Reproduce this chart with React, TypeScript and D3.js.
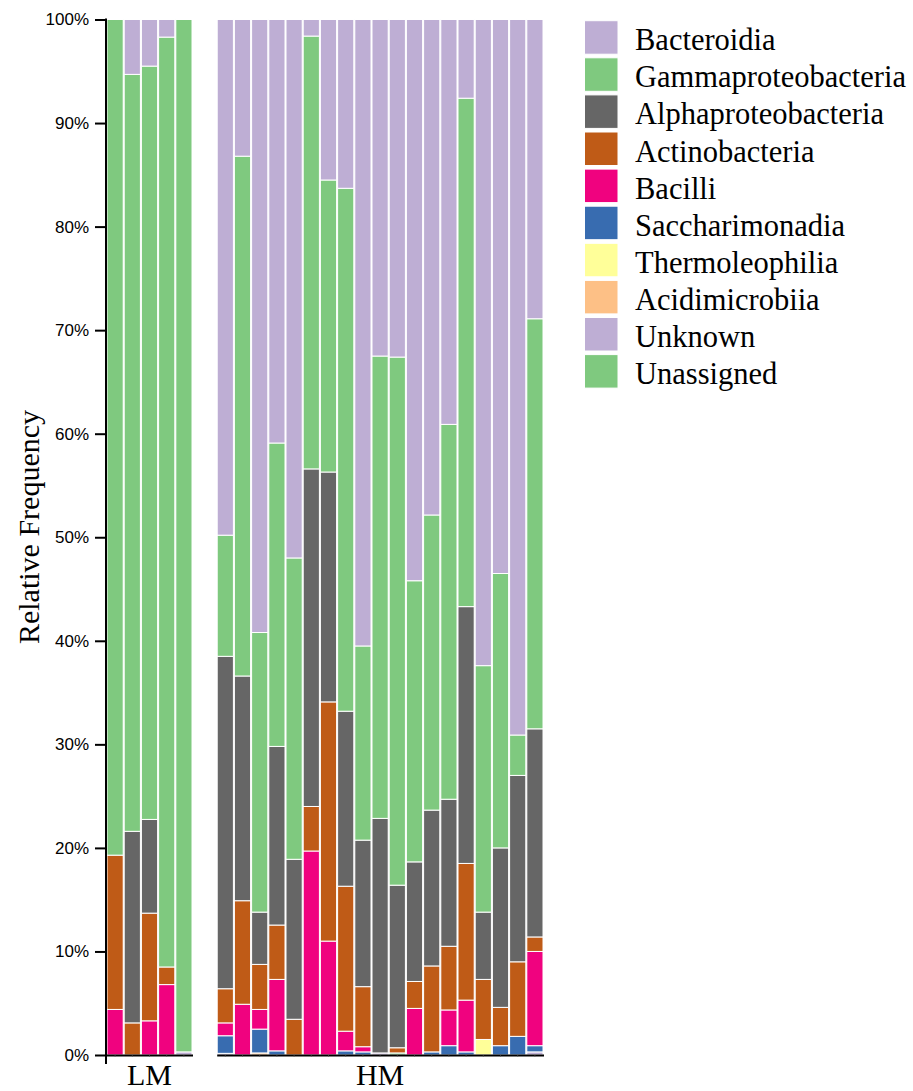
import * as d3 from "d3";
import { useEffect, useRef } from "react";

// sample groups
const lmSamples = ["LM1", "LM2", "LM3", "LM4", "LM5"];
const hmSamples = [
  "HM1", "HM2", "HM3", "HM4", "HM5", "HM6", "HM7", "HM8", "HM9", "HM10",
  "HM11", "HM12", "HM13", "HM14", "HM15", "HM16", "HM17", "HM18", "HM19",
];
const groupLabels = ["LM", "HM"];

// legend order (top of stack first)
const taxa = [
  "Bacteroidia",
  "Gammaproteobacteria",
  "Alphaproteobacteria",
  "Actinobacteria",
  "Bacilli",
  "Saccharimonadia",
  "Thermoleophilia",
  "Acidimicrobiia",
  "Unknown",
  "Unassigned",
];

// relative frequency (%) per sample: LM1..LM5, HM1..HM19
const bacteroidia = [0, 5.3, 4.5, 1.7, 0, 49.8, 13.2, 59.2, 40.9, 52.0, 1.6, 15.5, 16.3, 60.5, 32.5, 32.6, 54.2, 47.85, 39.1, 7.6, 62.4, 53.5, 69.1, 28.9];
const gammaproteobacteria = [80.7, 73.1, 72.75, 89.8, 99.7, 11.7, 50.2, 27.0, 29.3, 29.1, 41.8, 28.2, 50.5, 18.75, 44.65, 51.0, 27.15, 28.5, 36.2, 49.1, 23.8, 26.5, 3.9, 39.6];
const alphaproteobacteria = [0, 18.5, 9.05, 0, 0, 32.1, 21.7, 5.05, 17.25, 15.45, 32.6, 22.2, 16.9, 14.15, 22.65, 15.7, 11.55, 15.05, 14.2, 24.8, 6.5, 15.4, 18.0, 20.1];
const actinobacteria = [14.9, 3.1, 10.4, 1.7, 0, 3.3, 10.0, 4.35, 5.25, 3.45, 4.3, 23.1, 14.0, 5.8, 0, 0.5, 2.6, 8.3, 6.15, 13.2, 5.8, 3.7, 7.2, 1.4];
const bacilli = [4.4, 0, 3.3, 6.8, 0, 1.24, 4.9, 1.9, 6.9, 0, 19.7, 11.0, 1.9, 0.5, 0, 0, 4.5, 0, 3.45, 5.0, 0, 0, 0, 9.1];
const saccharimonadia = [0, 0, 0, 0, 0, 1.7, 0, 2.3, 0.4, 0, 0, 0, 0.4, 0.3, 0, 0, 0, 0.3, 0.9, 0.3, 0, 0.9, 1.8, 0.6];
const thermoleophilia = [0, 0, 0, 0, 0, 0, 0, 0, 0, 0, 0, 0, 0, 0, 0, 0, 0, 0, 0, 0, 1.5, 0, 0, 0];
const acidimicrobiia = [0, 0, 0, 0, 0, 0, 0, 0.2, 0, 0, 0, 0, 0, 0, 0, 0, 0, 0, 0, 0, 0, 0, 0, 0];
const unknown = [0, 0, 0, 0, 0.3, 0.16, 0, 0, 0, 0, 0, 0, 0, 0, 0.2, 0, 0, 0, 0, 0, 0, 0, 0, 0.3];
const unassigned = [0, 0, 0, 0, 0, 0, 0, 0, 0, 0, 0, 0, 0, 0, 0, 0.2, 0, 0, 0, 0, 0, 0, 0, 0];

const yTicks = [0, 0.1, 0.2, 0.3, 0.4, 0.5, 0.6, 0.7, 0.8, 0.9, 1];

const App = () => {
  const ref = useRef(null);

  useEffect(() => {
    const svg = d3.select(ref.current);
    svg.selectAll("*").remove();

    const series = [
      bacteroidia, gammaproteobacteria, alphaproteobacteria, actinobacteria, bacilli,
      saccharimonadia, thermoleophilia, acidimicrobiia, unknown, unassigned,
    ];
    const samples = lmSamples.concat(hmSamples);
    const table = samples.map((s, i) => {
      const row = { sample: s };
      taxa.forEach((t, k) => (row[t] = series[k][i]));
      return row;
    });

    // bottom of stack = last legend entry
    const stackKeys = taxa.slice().reverse();
    const stacked = d3.stack().keys(stackKeys).offset(d3.stackOffsetExpand)(table);

    const color = d3.scaleOrdinal().domain(stackKeys).range(d3.schemeAccent.concat(d3.schemeAccent));

    const y = d3.scaleLinear().domain([0, 1]).range([1055, 19.5]);
    const xLM = d3.scaleBand().domain(lmSamples).range([106.5, 192.5]).padding(0);
    const xHM = d3.scaleBand().domain(hmSamples).range([216.7, 543.5]).padding(0);
    const xOf = (s) => (s.startsWith("LM") ? xLM(s) : xHM(s));
    const bw = xLM.bandwidth();

    // bars
    svg
      .append("g")
      .selectAll("g")
      .data(stacked)
      .enter()
      .append("g")
      .attr("fill", (d) => color(d.key))
      .selectAll("rect")
      .data((d) => d)
      .enter()
      .append("rect")
      .attr("x", (d) => xOf(d.data.sample) + 0.5)
      .attr("width", bw - 1)
      .attr("y", (d) => y(d[1]))
      .attr("height", (d) => Math.max(0, y(d[0]) - y(d[1])))
      .attr("stroke", "#fff")
      .attr("stroke-width", (d) => (d[1] - d[0] > 0 ? 1 : 0));

    // y axis
    const yAxis = svg
      .append("g")
      .attr("transform", "translate(106,0)")
      .call(
        d3.axisLeft(y).tickValues(yTicks).tickFormat(d3.format(".0%")).tickSize(11).tickSizeOuter(0).tickPadding(6)
      );
    yAxis.selectAll("text").attr("font-family", "'Liberation Sans', Arial, sans-serif").attr("font-size", 17).attr("fill", "#000");
    yAxis.selectAll("line").attr("stroke", "#000").attr("stroke-width", 2);
    yAxis.select(".domain").attr("stroke", "#000").attr("stroke-width", 2).attr("d", "M0,18.5V1064");

    // x axes (one per group)
    [xLM, xHM].forEach((xs, gi) => {
      const ax = svg
        .append("g")
        .attr("transform", "translate(0,1055)")
        .call(d3.axisBottom(xs).tickSize(2).tickSizeOuter(0).tickFormat(() => ""));
      ax.select(".domain").attr("stroke", "#000").attr("stroke-width", 2);
      ax.selectAll("line").attr("stroke", "#555").attr("stroke-width", 0.6);
      const [r0, r1] = xs.range();
      svg
        .append("text")
        .attr("x", (r0 + r1) / 2)
        .attr("y", 1085)
        .attr("text-anchor", "middle")
        .attr("font-family", "'Liberation Serif', 'Times New Roman', serif")
        .attr("font-size", 30)
        .text(groupLabels[gi]);
    });

    // y label
    svg
      .append("text")
      .attr("transform", "translate(39,527) rotate(-90)")
      .attr("text-anchor", "middle")
      .attr("font-family", "'Liberation Serif', 'Times New Roman', serif")
      .attr("font-size", 30)
      .text("Relative Frequency");

    // legend
    const legend = svg
      .append("g")
      .selectAll("g")
      .data(taxa)
      .enter()
      .append("g")
      .attr("transform", (d, i) => `translate(584.5,${20.7 + i * 37.1})`);
    legend
      .append("rect")
      .attr("width", 33.5)
      .attr("height", 33.5)
      .attr("fill", (d) => color(d))
      .attr("stroke", "#fff")
      .attr("stroke-width", 1);
    legend
      .append("text")
      .attr("x", 50.5)
      .attr("y", 29.5)
      .attr("font-family", "'Liberation Serif', 'Times New Roman', serif")
      .attr("font-size", 30.5)
      .text((d) => d);
    // eslint-disable-next-line react-hooks/exhaustive-deps
  }, []);

  return (
    <svg
      ref={ref}
      width={913}
      height={1091}
      style={{ position: "absolute", left: 0, top: 0, background: "#fff" }}
    />
  );
};

export default App;
